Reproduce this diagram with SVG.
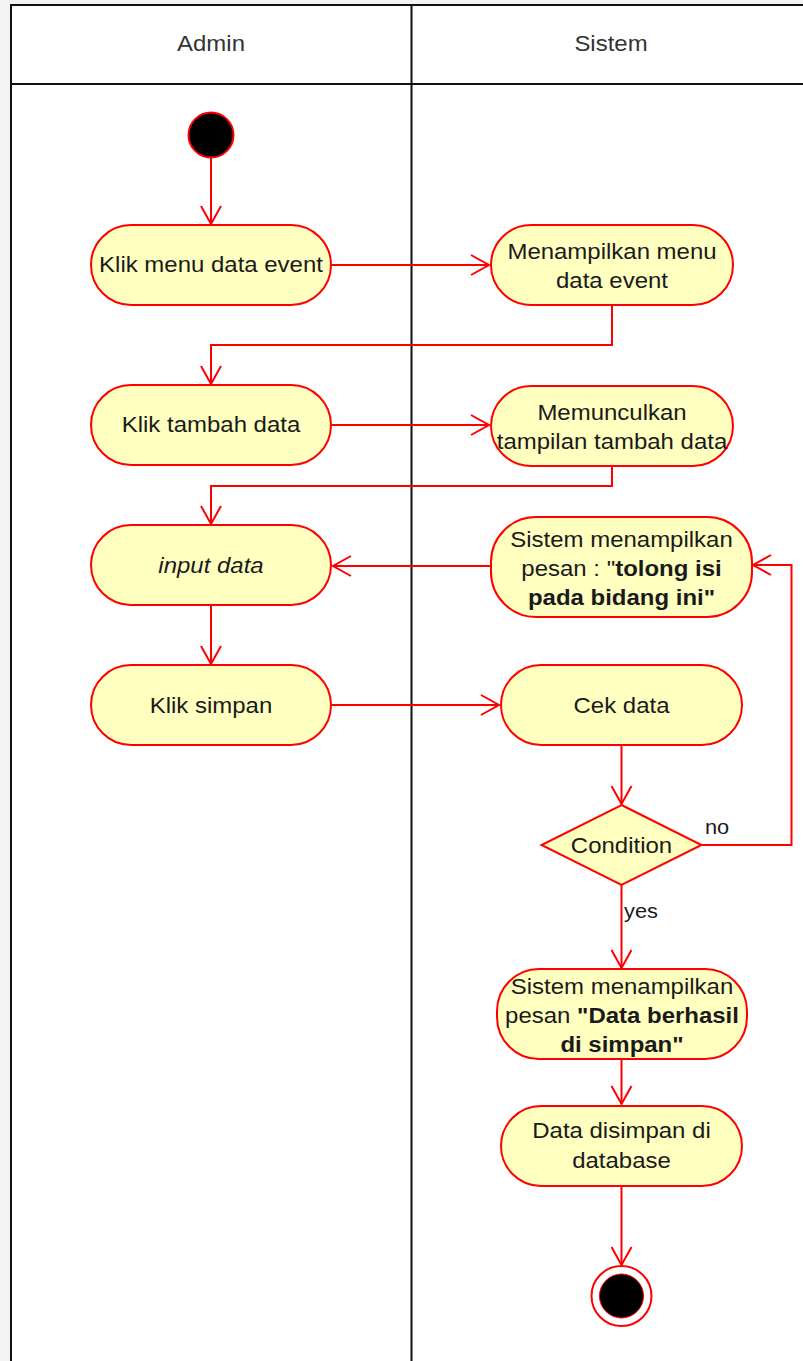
<svg xmlns="http://www.w3.org/2000/svg" width="803" height="1361" viewBox="0 0 803 1361">
  <style>
    .act { fill: #ffffc0; stroke: #ff0000; stroke-width: 2; }
    .edge { fill: none; stroke: #ff0000; stroke-width: 2; }
    .lane { fill: none; stroke: #111111; stroke-width: 2; }
    .t { font-family: "Liberation Sans", Arial, sans-serif; font-size: 22px; fill: #1a1a1a; text-anchor: middle; }
    .hdr { font-family: "Liberation Sans", Arial, sans-serif; font-size: 22px; fill: #333333; text-anchor: middle; }
    .lbl { font-family: "Liberation Sans", Arial, sans-serif; font-size: 20px; fill: #1a1a1a; }
    .b { font-weight: bold; }
  </style>
  <defs>
    <marker id="open" markerUnits="userSpaceOnUse" markerWidth="24" markerHeight="24" viewBox="-20 -12 22 24" refX="0" refY="0" orient="auto">
      <path d="M -18 -10 L 0 0 L -18 10" fill="none" stroke="#ff0000" stroke-width="2"/>
    </marker>
  </defs>

  <!-- page background and swimlane frame -->
  <rect x="0" y="0" width="803" height="1361" fill="#f3f3f3"/>
  <rect x="11" y="5" width="792" height="1356" fill="#ffffff"/>
  <g id="lanes">
    <path class="lane" d="M 11 1361 L 11 5 L 803 5"/>
    <path class="lane" d="M 11 84 L 803 84"/>
    <path class="lane" d="M 411.5 5 L 411.5 1361"/>
    <text class="hdr" transform="translate(211 51) scale(1.09 1)">Admin</text>
    <text class="hdr" transform="translate(611 51) scale(1.09 1)">Sistem</text>
  </g>

  <!-- connectors -->
  <g id="connectors">
    <path class="edge" marker-end="url(#open)" d="M 211 158 L 211 224"/>
    <path class="edge" marker-end="url(#open)" d="M 332 265 L 489 265"/>
    <path class="edge" marker-end="url(#open)" d="M 612 305 L 612 345 L 211 345 L 211 384"/>
    <path class="edge" marker-end="url(#open)" d="M 332 425 L 489 425"/>
    <path class="edge" marker-end="url(#open)" d="M 612 465 L 612 486 L 211 486 L 211 524"/>
    <path class="edge" marker-end="url(#open)" d="M 491 566 L 333 566"/>
    <path class="edge" marker-end="url(#open)" d="M 211 605 L 211 664"/>
    <path class="edge" marker-end="url(#open)" d="M 332 705 L 499 705"/>
    <path class="edge" marker-end="url(#open)" d="M 621.5 745 L 621.5 804"/>
    <path class="edge" marker-end="url(#open)" d="M 701.5 845 L 791.5 845 L 791.5 565 L 753 565"/>
    <path class="edge" marker-end="url(#open)" d="M 621.5 885 L 621.5 968"/>
    <path class="edge" marker-end="url(#open)" d="M 621.5 1059 L 621.5 1104"/>
    <path class="edge" marker-end="url(#open)" d="M 621.5 1186 L 621.5 1265"/>
    <text class="lbl" transform="translate(705 834) scale(1.09 1)">no</text>
    <text class="lbl" transform="translate(624 918) scale(1.09 1)">yes</text>
  </g>

  <!-- nodes -->
  <g id="start">
    <circle cx="211" cy="135" r="22.5" fill="#000000" stroke="#ff0000" stroke-width="2"/>
  </g>
  <g id="klik-menu">
    <rect class="act" x="91" y="225" width="240" height="80" rx="40" ry="40"/>
    <text class="t" transform="translate(211 272) scale(1.09 1)">Klik menu data event</text>
  </g>
  <g id="tampil-menu">
    <rect class="act" x="491" y="225" width="242" height="80" rx="40" ry="40"/>
    <text class="t" transform="translate(612 259) scale(1.09 1)">Menampilkan menu</text>
    <text class="t" transform="translate(612 288) scale(1.09 1)">data event</text>
  </g>
  <g id="klik-tambah">
    <rect class="act" x="91" y="385" width="240" height="80" rx="40" ry="40"/>
    <text class="t" transform="translate(211 432) scale(1.09 1)">Klik tambah data</text>
  </g>
  <g id="tampil-tambah">
    <rect class="act" x="491" y="386" width="242" height="80" rx="40" ry="40"/>
    <text class="t" transform="translate(612 420) scale(1.09 1)">Memunculkan</text>
    <text class="t" transform="translate(612 449) scale(1.09 1)">tampilan tambah data</text>
  </g>
  <g id="input-data">
    <rect class="act" x="91" y="525" width="240" height="80" rx="40" ry="40"/>
    <text class="t" font-style="italic" transform="translate(211 573) scale(1.09 1)">input data</text>
  </g>
  <g id="pesan-isi">
    <rect class="act" x="491" y="517" width="261" height="100" rx="45" ry="45"/>
    <text class="t" transform="translate(621.5 547) scale(1.09 1)">Sistem menampilkan</text>
    <text class="t" transform="translate(621.5 576) scale(1.09 1)">pesan : "<tspan class="b">tolong isi</tspan></text>
    <text class="t b" transform="translate(621.5 605) scale(1.09 1)">pada bidang ini"</text>
  </g>
  <g id="klik-simpan">
    <rect class="act" x="91" y="665" width="240" height="80" rx="40" ry="40"/>
    <text class="t" transform="translate(211 713) scale(1.09 1)">Klik simpan</text>
  </g>
  <g id="cek-data">
    <rect class="act" x="501" y="665" width="241" height="80" rx="40" ry="40"/>
    <text class="t" transform="translate(621.5 713) scale(1.09 1)">Cek data</text>
  </g>
  <g id="condition">
    <path class="act" d="M 621.5 805 L 701.5 845 L 621.5 885 L 541.5 845 Z"/>
    <text class="t" transform="translate(621.5 853) scale(1.09 1)">Condition</text>
  </g>
  <g id="pesan-berhasil">
    <rect class="act" x="497" y="969" width="250" height="90" rx="42" ry="42"/>
    <text class="t" transform="translate(622 994) scale(1.09 1)">Sistem menampilkan</text>
    <text class="t" transform="translate(622 1023) scale(1.09 1)">pesan <tspan class="b">"Data berhasil</tspan></text>
    <text class="t b" transform="translate(622 1052) scale(1.09 1)">di simpan"</text>
  </g>
  <g id="simpan-db">
    <rect class="act" x="501" y="1106" width="241" height="80" rx="40" ry="40"/>
    <text class="t" transform="translate(621.5 1138) scale(1.09 1)">Data disimpan di</text>
    <text class="t" transform="translate(621.5 1168) scale(1.09 1)">database</text>
  </g>
  <g id="end">
    <circle cx="621.5" cy="1296" r="30" fill="#ffffff" stroke="#ff0000" stroke-width="2"/>
    <circle cx="621.5" cy="1296" r="22" fill="#000000" stroke="#ff0000" stroke-width="1"/>
  </g>
</svg>
